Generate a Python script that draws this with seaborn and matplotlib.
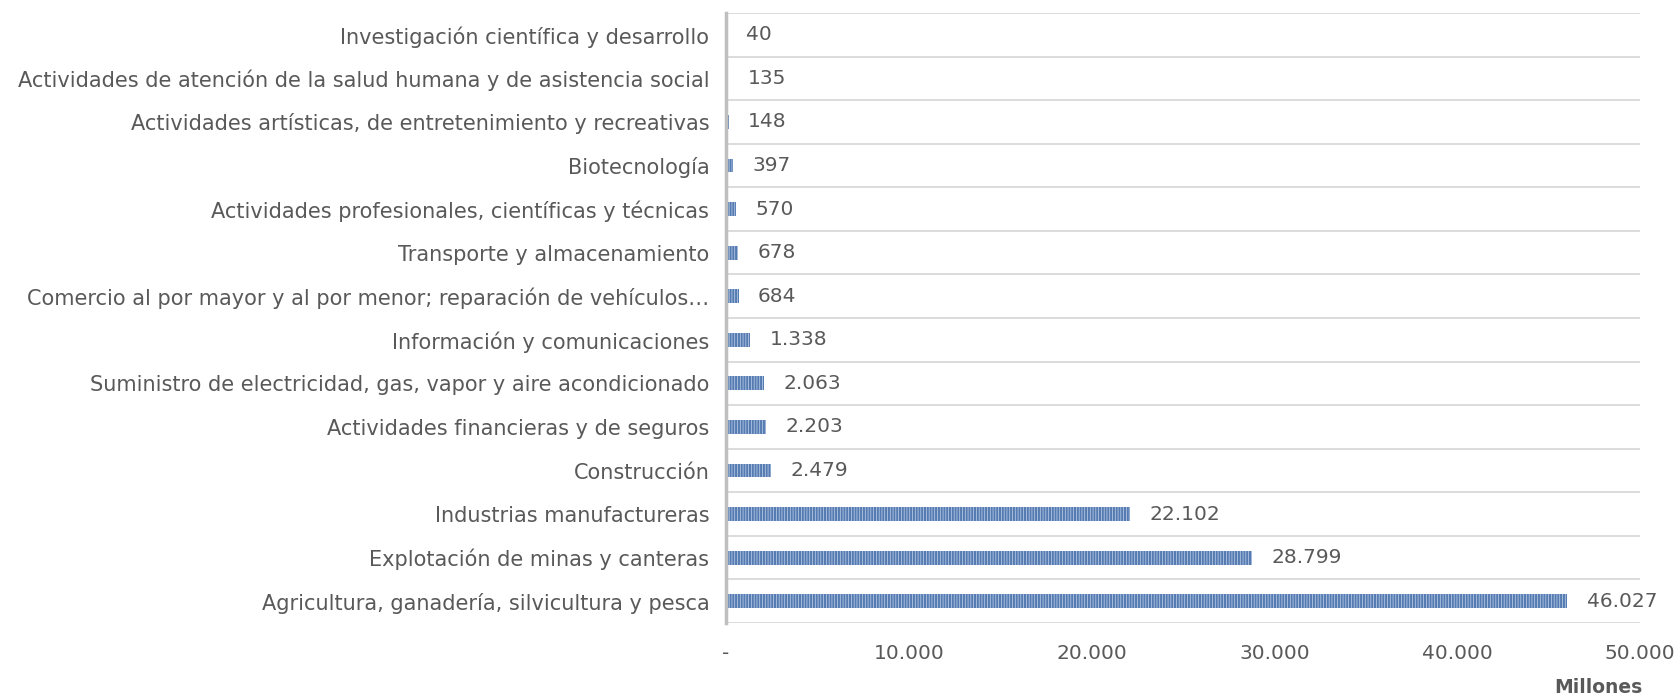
import matplotlib.pyplot as plt
import matplotlib.ticker as mticker
import numpy as np
import pandas as pd
import seaborn as sb

sectores = [
    "Investigación científica y desarrollo",
    "Actividades de atención de la salud humana y de asistencia social",
    "Actividades artísticas, de entretenimiento y recreativas",
    "Biotecnología",
    "Actividades profesionales, científicas y técnicas",
    "Transporte y almacenamiento",
    "Comercio al por mayor y al por menor; reparación de vehículos…",
    "Información y comunicaciones",
    "Suministro de electricidad, gas, vapor y aire acondicionado",
    "Actividades financieras y de seguros",
    "Construcción",
    "Industrias manufactureras",
    "Explotación de minas y canteras",
    "Agricultura, ganadería, silvicultura y pesca",
]
millones = [40, 135, 148, 397, 570, 678, 684, 1338, 2063, 2203, 2479, 22102, 28799, 46027]
ticks_x = [0, 10000, 20000, 30000, 40000, 50000]


def miles(v):
    return f"{v:,.0f}".replace(",", ".")


dfSect = pd.DataFrame({"sector": sectores, "valor": millones})

sb.set_style("white")
plt.rcParams["font.family"] = ["DejaVu Sans"]
plt.rcParams["hatch.linewidth"] = 0.5
gris = "#595959"

fig = plt.figure(figsize=(16.77, 6.96), dpi=100)
ax = fig.add_axes([726 / 1677, 73 / 696, 914 / 1677, 610 / 696])

sb.barplot(data=dfSect, y="sector", x="valor", orient="h", width=0.32,
           color="#4678c0", edgecolor="#c6d6ee", linewidth=0, hatch="||||||", ax=ax)
for p in ax.patches:
    p.set_linewidth(0)

ax.set_xlim(0, 50000)
ax.set_ylim(len(sectores) - 0.5, -0.5)
ax.set_xticks(ticks_x)
ax.xaxis.set_major_formatter(mticker.FuncFormatter(lambda v, p: "-" if v == 0 else miles(v)))
ax.set_yticks(np.arange(len(sectores) + 1) - 0.5, minor=True)
ax.grid(True, which="minor", axis="y", color="#d9d9d9", linewidth=1.3)
ax.grid(False, which="major")
ax.tick_params(axis="both", which="both", length=0, colors=gris)
ax.tick_params(axis="x", pad=15, labelsize=14.5)
ax.tick_params(axis="y", pad=12, labelsize=15)
for lab in ax.get_yticklabels():
    lab.set_color(gris)

for s in ["top", "right", "bottom"]:
    ax.spines[s].set_visible(False)
ax.spines["left"].set_color("#bfbfbf")
ax.spines["left"].set_linewidth(2.5)

for i, v in enumerate(millones):
    ax.annotate(miles(v), (v, i), xytext=(14, 0), textcoords="offset points",
                va="center", ha="left", fontsize=14.5, color=gris)

ax.set_ylabel("")
ax.set_xlabel("Millones", fontsize=13.5, fontweight="bold", color=gris)
ax.xaxis.set_label_coords(0.955, -0.09)

fig.savefig("out.png", dpi=100)
